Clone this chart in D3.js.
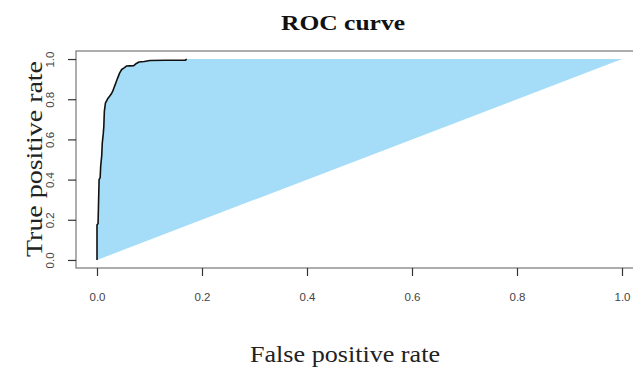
<!DOCTYPE html>
<html>
<head>
<meta charset="utf-8">
<script src="https://cdn.jsdelivr.net/npm/d3@7"></script>
<style>
  html, body { margin: 0; padding: 0; background: #ffffff; }
  svg { display: block; }
</style>
</head>
<body>
<svg id="chart" width="633" height="370"></svg>
<script>
// ROC curve: false positive rate vs true positive rate
const fpr = [0.000, 0.000, 0.002, 0.004, 0.006, 0.007, 0.009, 0.010, 0.012, 0.013,
             0.014, 0.016, 0.018, 0.021, 0.024, 0.028, 0.030, 0.032, 0.035, 0.038,
             0.040, 0.043, 0.047, 0.051, 0.056, 0.062, 0.070, 0.075, 0.080, 0.090,
             0.101, 0.130, 0.168, 0.171, 1.000];
const tpr = [0.000, 0.175, 0.180, 0.400, 0.410, 0.465, 0.520, 0.580, 0.630, 0.665,
             0.740, 0.780, 0.790, 0.805, 0.815, 0.830, 0.840, 0.855, 0.875, 0.897,
             0.910, 0.930, 0.948, 0.955, 0.965, 0.966, 0.967, 0.978, 0.985, 0.988,
             0.993, 0.994, 0.994, 1.000, 1.000];

const xTicks = [0, 0.2, 0.4, 0.6, 0.8, 1.0];
const yTicks = [0, 0.2, 0.4, 0.6, 0.8, 1.0];

const titleText = "ROC curve";
const xLabel = "False positive rate";
const yLabel = "True positive rate";

const svg = d3.select("#chart");

// plotting region extends 4% beyond the data range on each side
const x = d3.scaleLinear().domain([-0.04, 1.04]).range([76, 643]);
const y = d3.scaleLinear().domain([-0.04, 1.04]).range([268, 51]);

const pts = fpr.map((f, i) => [f, tpr[i]]);

// shaded area between the curve and the chance diagonal
svg.append("path")
  .datum(pts)
  .attr("d", d3.line().x(d => x(d[0])).y(d => y(d[1])).curve(d3.curveLinearClosed))
  .attr("fill", "#a5ddf8")
  .attr("stroke", "none");

// the ROC curve itself
svg.append("path")
  .datum(pts.slice(0, pts.length - 1))
  .attr("d", d3.line().x(d => x(d[0])).y(d => y(d[1])))
  .attr("fill", "none")
  .attr("stroke", "#111")
  .attr("stroke-width", 1.6)
  .attr("stroke-linejoin", "round");

// plot frame
svg.append("rect")
  .attr("x", x(-0.04)).attr("y", y(1.04))
  .attr("width", x(1.04) - x(-0.04))
  .attr("height", y(-0.04) - y(1.04))
  .attr("fill", "none")
  .attr("stroke", "#777")
  .attr("stroke-width", 1.2);

// x axis
const xAxis = svg.append("g")
  .attr("transform", `translate(0,${y(-0.04)})`)
  .call(d3.axisBottom(x).tickValues(xTicks).tickFormat(d3.format(".1f")).tickSize(8).tickPadding(17));
xAxis.select(".domain").remove();
xAxis.selectAll(".tick line").attr("stroke", "#333").attr("stroke-width", 1.2);
xAxis.selectAll(".tick text")
  .attr("fill", "#444")
  .style("font-family", "'Liberation Sans', Arial, sans-serif")
  .style("font-size", "11.5px");

// y axis with labels rotated parallel to the axis
const yAxis = svg.append("g")
  .attr("transform", `translate(${x(-0.04)},0)`)
  .call(d3.axisLeft(y).tickValues(yTicks).tickFormat(d3.format(".1f")).tickSize(8).tickPadding(8));
yAxis.select(".domain").remove();
yAxis.selectAll(".tick line").attr("stroke", "#333").attr("stroke-width", 1.2);
yAxis.selectAll(".tick text")
  .attr("fill", "#444")
  .attr("x", null).attr("dy", null)
  .attr("text-anchor", "middle")
  .attr("transform", "translate(-22,0) rotate(-90)")
  .style("font-family", "'Liberation Sans', Arial, sans-serif")
  .style("font-size", "11.5px");

// title
svg.append("text")
  .attr("x", 343).attr("y", 30)
  .attr("text-anchor", "middle")
  .attr("textLength", 124).attr("lengthAdjust", "spacingAndGlyphs")
  .style("font-family", "'Liberation Serif', 'Times New Roman', serif")
  .style("font-weight", "bold")
  .style("font-size", "22px")
  .attr("fill", "#111")
  .text(titleText);

// axis titles
svg.append("text")
  .attr("x", 345).attr("y", 362)
  .attr("text-anchor", "middle")
  .attr("textLength", 190).attr("lengthAdjust", "spacingAndGlyphs")
  .style("font-family", "'Liberation Serif', 'Times New Roman', serif")
  .style("font-size", "23px")
  .attr("fill", "#222")
  .text(xLabel);

svg.append("text")
  .attr("transform", "translate(42,159) rotate(-90)")
  .attr("text-anchor", "middle")
  .attr("textLength", 196).attr("lengthAdjust", "spacingAndGlyphs")
  .style("font-family", "'Liberation Serif', 'Times New Roman', serif")
  .style("font-size", "23px")
  .attr("fill", "#222")
  .text(yLabel);
</script>
</body>
</html>
